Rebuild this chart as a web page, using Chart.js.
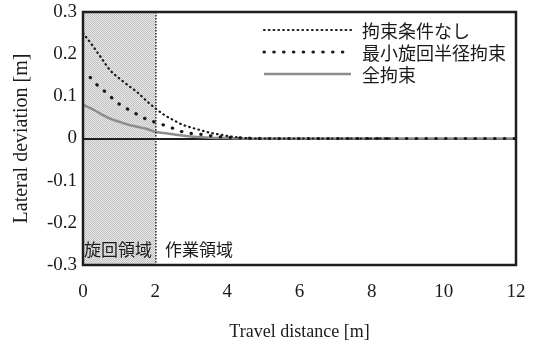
<!DOCTYPE html>
<html>
<head>
<meta charset="utf-8">
<script src="https://cdn.jsdelivr.net/npm/chart.js@4/dist/chart.umd.min.js"></script>
<style>
  html, body { margin: 0; padding: 0; background: #fff; }
  canvas { display: block; }
</style>
</head>
<body>
<canvas id="c" width="534" height="343"></canvas>
<script>
// Lateral deviation vs travel distance for three constraint settings
const seriesNames = ['拘束条件なし', '最小旋回半径拘束', '全拘束'];

const freeX = [0, 0.25, 0.5, 0.75, 1.0, 1.25, 1.5, 1.75, 2.0, 2.25, 2.5, 2.75, 3.0, 3.25, 3.5, 3.75, 4.0, 4.25, 4.5, 4.75, 6, 7, 8.5];
const freeY = [0.250, 0.222, 0.192, 0.162, 0.143, 0.126, 0.110, 0.090, 0.072, 0.056, 0.044, 0.033, 0.026, 0.020, 0.014, 0.010, 0.006, 0.003, 0.001, 0, 0, 0, 0];

const radiusX = [0.2, 0.45, 0.7, 0.9, 1.15, 1.4, 1.65, 1.95, 2.2, 2.5, 2.75, 3.0, 3.35, 3.65, 4.0, 4.5, 5.0, 8, 12];
const radiusY = [0.145, 0.122, 0.105, 0.088, 0.074, 0.062, 0.050, 0.040, 0.033, 0.024, 0.016, 0.012, 0.009, 0.005, 0.003, 0.001, 0, 0, 0];

const fullX = [0, 0.25, 0.5, 0.75, 1.0, 1.25, 1.5, 1.75, 2.0, 2.25, 2.5, 2.75, 3.0, 3.5, 4.0, 4.5, 8, 12];
const fullY = [0.080, 0.070, 0.058, 0.047, 0.040, 0.033, 0.028, 0.023, 0.016, 0.013, 0.010, 0.007, 0.005, 0.002, 0.001, 0, 0, 0];

const xTickValues = [0, 2, 4, 6, 8, 10, 12];
const xTickLabels = ['0', '2', '4', '6', '8', '10', '12'];
const yTickValues = [-0.3, -0.2, -0.1, 0, 0.1, 0.2, 0.3];
const yTickLabels = ['-0.3', '-0.2', '-0.1', '0', '0.1', '0.2', '0.3'];

// turning zone / working zone split
const zoneEnd = 2.02;
const zoneLabels = ['旋回領域', '作業領域'];

const SERIF = '"Liberation Serif", "Times New Roman", serif';
const CJK = '"Noto Sans CJK JP", sans-serif';

const pts = (xs, ys) => xs.map((x, i) => ({ x: x, y: ys[i] }));

const styles = [
  { borderColor: '#1a1a1a', borderWidth: 2.2, borderDash: [0.6, 4.2], borderCapStyle: 'round' },
  { borderColor: '#1a1a1a', borderWidth: 3.2, borderDash: [0.4, 9.4], borderCapStyle: 'round' },
  { borderColor: '#8c8c8c', borderWidth: 2.5, borderDash: [], borderCapStyle: 'butt' }
];

function makeHatch(ctx) {
  const p = document.createElement('canvas');
  p.width = 2; p.height = 2;
  const g = p.getContext('2d');
  g.fillStyle = '#e8e8e8'; g.fillRect(0, 0, 2, 2);
  g.fillStyle = '#c2c2c2'; g.fillRect(0, 0, 1, 1); g.fillRect(1, 1, 1, 1);
  return ctx.createPattern(p, 'repeat');
}

// keep the plot rectangle fixed: no extra room reserved for edge labels
const noEdgePad = s => { s.paddingLeft = 0; s.paddingRight = 0; s.paddingTop = 0; s.paddingBottom = 0; };

const zonePlugin = {
  id: 'zones',
  beforeDraw(chart) {
    const { ctx, chartArea: a, scales: { x } } = chart;
    const xe = x.getPixelForValue(zoneEnd);
    ctx.save();
    ctx.fillStyle = makeHatch(ctx);
    ctx.fillRect(a.left, a.top, xe - a.left, a.bottom - a.top);
    ctx.restore();
  },
  afterDatasetsDraw(chart) {
    const { ctx, chartArea: a, scales: { x } } = chart;
    const xe = x.getPixelForValue(zoneEnd);
    ctx.save();
    // zone boundary
    ctx.strokeStyle = '#2a2a2a';
    ctx.lineWidth = 1.5;
    ctx.setLineDash([1.5, 1.5]);
    ctx.beginPath();
    ctx.moveTo(xe, a.top);
    ctx.lineTo(xe, a.bottom);
    ctx.stroke();
    ctx.setLineDash([]);
    // zone names
    ctx.fillStyle = '#1a1a1a';
    ctx.font = '17px ' + CJK;
    ctx.textBaseline = 'middle';
    ctx.textAlign = 'left';
    ctx.fillText(zoneLabels[0], a.left + 1, a.bottom - 15);
    ctx.fillText(zoneLabels[1], xe + 9, a.bottom - 15);

    // legend
    const lx0 = a.left + 181, lx1 = a.left + 268, tx = a.left + 279;
    const rows = [a.top + 18, a.top + 40, a.top + 62];
    ctx.font = '18px ' + CJK;
    chart.data.datasets.forEach((ds, i) => {
      ctx.strokeStyle = ds.borderColor;
      ctx.lineWidth = ds.borderWidth;
      ctx.lineCap = ds.borderCapStyle;
      ctx.setLineDash(ds.borderDash);
      ctx.beginPath();
      ctx.moveTo(lx0, rows[i]);
      ctx.lineTo(lx1, rows[i]);
      ctx.stroke();
      ctx.setLineDash([]);
      ctx.lineCap = 'butt';
      ctx.fillStyle = '#1a1a1a';
      ctx.fillText(ds.label, tx, rows[i] + 1);
    });

    // plot frame
    ctx.strokeStyle = '#1e1e1e';
    ctx.lineWidth = 2.5;
    ctx.strokeRect(a.left, a.top, a.right - a.left, a.bottom - a.top);
    ctx.restore();
  }
};

new Chart(document.getElementById('c'), {
  type: 'scatter',
  data: {
    datasets: [
      Object.assign({ label: seriesNames[0], data: pts(freeX, freeY) }, styles[0]),
      Object.assign({ label: seriesNames[1], data: pts(radiusX, radiusY) }, styles[1]),
      Object.assign({ label: seriesNames[2], data: pts(fullX, fullY) }, styles[2])
    ].map(d => Object.assign(d, {
      showLine: true, pointRadius: 0, cubicInterpolationMode: 'monotone', fill: false
    }))
  },
  options: {
    responsive: false,
    devicePixelRatio: 1,
    animation: false,
    layout: { padding: { top: 12, right: 18, left: 0, bottom: 0 } },
    plugins: { legend: { display: false }, tooltip: { enabled: false } },
    scales: {
      x: {
        type: 'linear', min: 0, max: 12,
        afterBuildTicks: s => { s.ticks = xTickValues.map(v => ({ value: v })); },
        afterFit: s => { s.height = 78; noEdgePad(s); },
        ticks: {
          callback: (v, i) => xTickLabels[i],
          color: '#1a1a1a', font: { family: SERIF, size: 19 }, padding: 16, maxRotation: 0
        },
        grid: { display: false, drawTicks: false },
        border: { display: false },
        title: {
          display: true, text: 'Travel distance [m]', color: '#1a1a1a',
          font: { family: SERIF, size: 18 }, padding: { top: 0, bottom: 0 }
        }
      },
      y: {
        type: 'linear', min: -0.3, max: 0.3,
        afterBuildTicks: s => { s.ticks = yTickValues.map(v => ({ value: v })); },
        afterFit: s => { s.width = 83; noEdgePad(s); },
        ticks: {
          callback: (v, i) => yTickLabels[i],
          color: '#1a1a1a', font: { family: SERIF, size: 19 }, padding: 6
        },
        grid: {
          drawTicks: false,
          color: c => (c.tick && c.tick.value === 0 ? '#1e1e1e' : 'rgba(0,0,0,0)'),
          lineWidth: 2
        },
        border: { display: false },
        title: {
          display: true, text: 'Lateral deviation [m]', color: '#1a1a1a',
          font: { family: SERIF, size: 20 }, padding: { top: 10, bottom: 0 }
        }
      }
    }
  },
  plugins: [zonePlugin]
});
</script>
</body>
</html>
